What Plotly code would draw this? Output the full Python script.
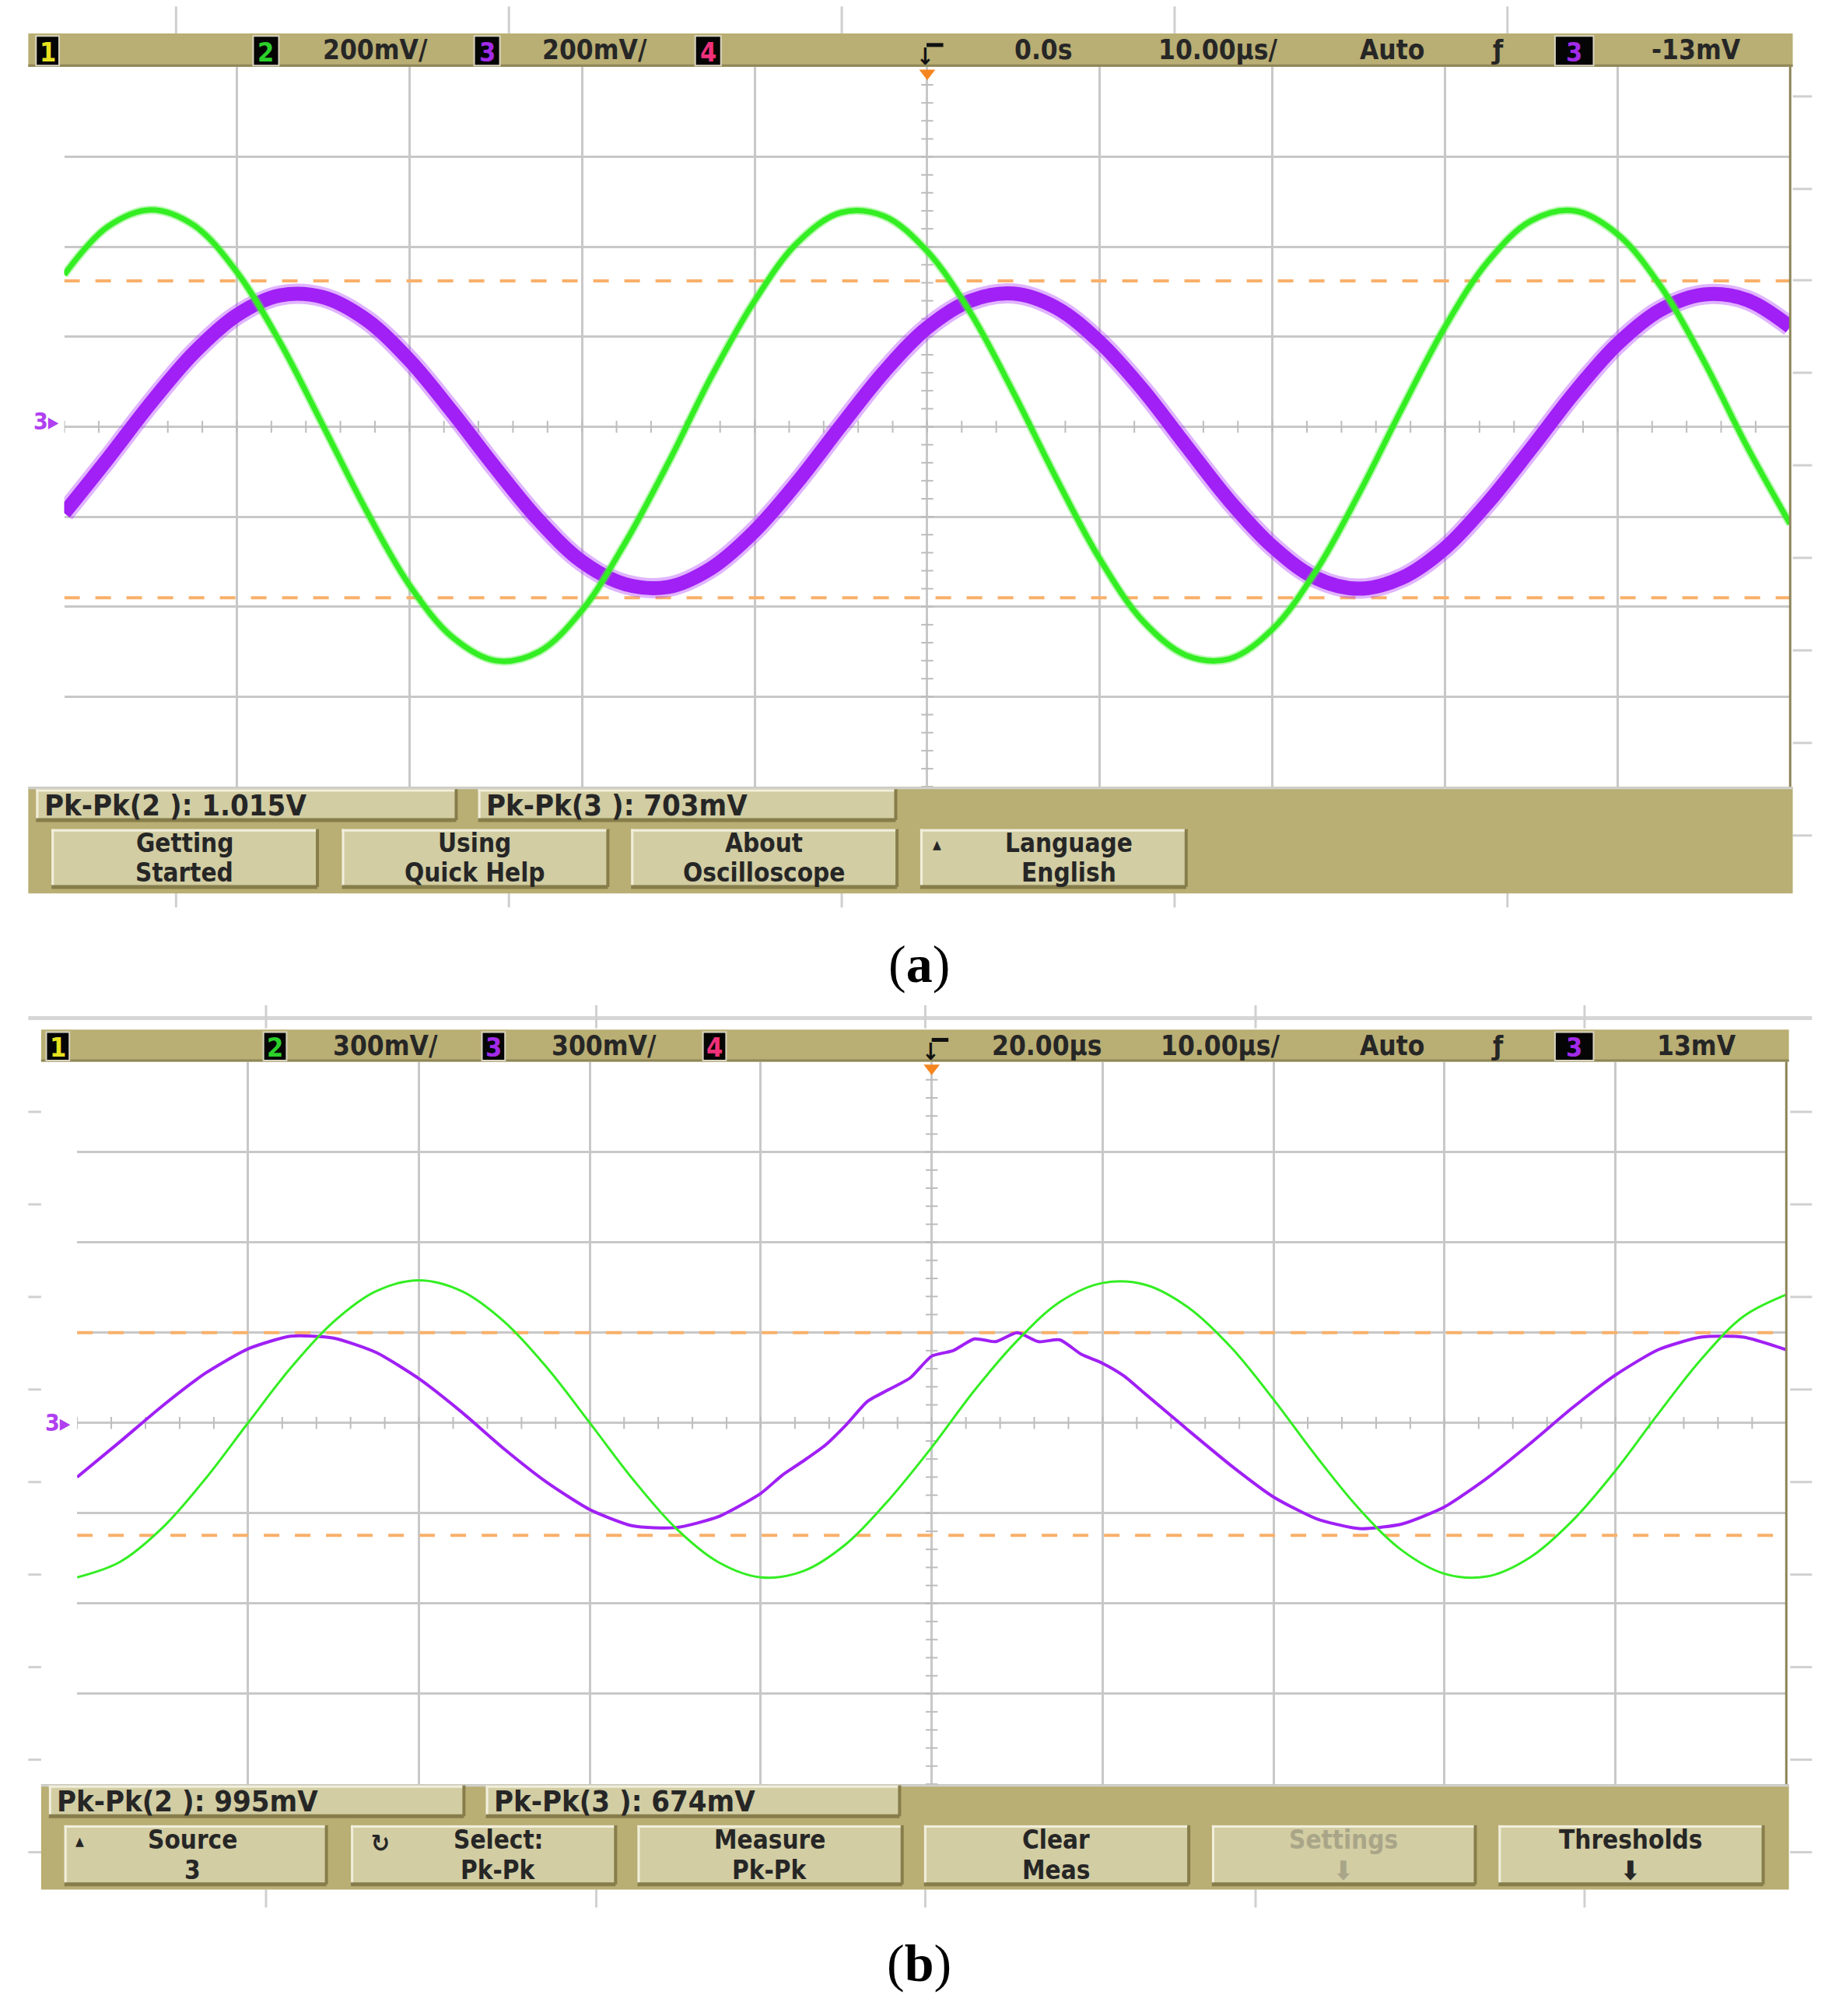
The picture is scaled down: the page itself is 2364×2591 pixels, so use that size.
import plotly.graph_objects as go
import numpy as np

# ---------------- data (values in screen divisions) ----------------
x_div = [i * 0.25 for i in range(41)]

green_a = [1.69, 2.22, 2.41, 2.24, 1.72, 0.94, 0.01, -0.93, -1.76, -2.34, -2.60, -2.50, -2.04, -1.29,
           -0.40, 0.56, 1.40, 2.05, 2.38, 2.34, 1.95, 1.27, 0.38, -0.58, -1.47, -2.16, -2.54, -2.58,
           -2.25, -1.61, -0.75, 0.20, 1.11, 1.84, 2.29, 2.40, 2.14, 1.56, 0.73, -0.22, -1.08]
purple_a = [-0.96, -0.36, 0.26, 0.82, 1.24, 1.46, 1.44, 1.19, 0.74, 0.16, -0.46, -1.04, -1.50, -1.75,
            -1.78, -1.57, -1.16, -0.61, 0.01, 0.61, 1.10, 1.40, 1.48, 1.32, 0.94, 0.41, -0.21, -0.82,
            -1.33, -1.68, -1.80, -1.68, -1.35, -0.84, -0.24, 0.38, 0.92, 1.30, 1.47, 1.41, 1.11]
green_b = [-1.71, -1.54, -1.16, -0.62, 0.00, 0.61, 1.12, 1.46, 1.58, 1.46, 1.12, 0.61, 0.00, -0.62,
           -1.16, -1.54, -1.71, -1.64, -1.34, -0.85, -0.27, 0.36, 0.91, 1.34, 1.55, 1.53, 1.28, 0.84,
           0.26, -0.37, -0.95, -1.41, -1.67, -1.70, -1.49, -1.08, -0.53, 0.10, 0.70, 1.18, 1.42]
x_b3 = [0.0, 0.25, 0.5, 0.75, 1.0, 1.25, 1.5, 1.75, 2.0, 2.25, 2.5, 2.75, 3.0, 3.25, 3.5, 3.75,
        4.0, 4.125, 4.25, 4.375, 4.5, 4.625, 4.75, 4.875, 5.0, 5.125, 5.25, 5.375, 5.5, 5.625,
        5.75, 5.875, 6.0, 6.125, 6.25, 6.5, 6.75, 7.0, 7.25, 7.5, 7.75, 8.0, 8.25, 8.5, 8.75,
        9.0, 9.25, 9.5, 9.75, 10.0]
purple_b = [-0.60, -0.21, 0.19, 0.55, 0.82, 0.96, 0.94, 0.78, 0.49, 0.12, -0.29, -0.66, -0.96, -1.14,
            -1.16, -1.04,
            -0.78, -0.58, -0.42, -0.25, -0.02, 0.24, 0.37, 0.50, 0.74, 0.80, 0.93, 0.90, 1.00, 0.90,
            0.92, 0.76, 0.66, 0.52, 0.32,
            -0.08, -0.47, -0.82, -1.06, -1.17, -1.12, -0.93, -0.61, -0.23, 0.17, 0.53, 0.81, 0.95, 0.95, 0.81]
thr_a = [1.62, -1.90]
thr_b = [1.00, -1.245]

header_a = ["200mV/", "200mV/", "0.0s", "10.00µs/", "Auto", "-13mV"]
header_b = ["300mV/", "300mV/", "20.00µs", "10.00µs/", "Auto", "13mV"]
meas_a = ["Pk-Pk(2 ): 1.015V", "Pk-Pk(3 ): 703mV"]
meas_b = ["Pk-Pk(2 ): 995mV", "Pk-Pk(3 ): 674mV"]
keys_a = [("Getting", "Started"), ("Using", "Quick Help"), ("About", "Oscilloscope"), ("Language", "English")]
keys_b = [("Source", "3"), ("Select:", "Pk-Pk"), ("Measure", "Pk-Pk"), ("Clear", "Meas"),
          ("Settings", "⬇"), ("Thresholds", "⬇")]

# ---------------- geometry helpers ----------------
W, H = 2364, 2591
S = 1.652
def fx(s): return s * S / W
def fy(s): return 1 - s * S / H

SCOPE = "Liberation Sans Narrow, DejaVu Sans Condensed, Roboto, Liberation Sans, sans-serif"
TAN = "#B9AE73"
KEY = "#D2CDA3"
TXT = "#262626"

shapes = []
annos = []

def rect(x0, y0, x1, y1, fill, line=None, lw=0):
    shapes.append(dict(type="rect", xref="paper", yref="paper", x0=fx(x0), x1=fx(x1),
                       y0=fy(y1), y1=fy(y0), fillcolor=fill,
                       line=dict(color=line or fill, width=lw), layer="above"))

def seg(x0, y0, x1, y1, color, w):
    shapes.append(dict(type="line", xref="paper", yref="paper", x0=fx(x0), y0=fy(y0),
                       x1=fx(x1), y1=fy(y1), line=dict(color=color, width=w), layer="above"))

def txt(x, y, text, size, color=TXT, family=SCOPE, xanchor="center", weight="bold"):
    annos.append(dict(x=fx(x), y=fy(y), xref="paper", yref="paper", text=text, showarrow=False,
                      xanchor=xanchor, yanchor="middle",
                      font=dict(size=size, color=color, family=family, weight=weight)))

def key(x0, y0, x1, y1):
    rect(x0, y0, x1, y1, KEY)
    seg(x0, y0 + 1, x1, y0 + 1, "#F1EEDB", 3)
    seg(x0 + 1, y0, x0 + 1, y1, "#F1EEDB", 3)
    seg(x0, y1, x1, y1, "#867D4B", 5)
    seg(x1, y0, x1, y1, "#867D4B", 4)

def chbox(x0, x1, y0, y1, label, color):
    rect(x0, y0, x1, y1, "#050505", "#d8d4c0", 2)
    txt((x0 + x1) / 2, (y0 + y1) / 2 + 1, label, 34, color=color)

def trig_sym(x, yc):
    seg(x - 1, yc - 7, x + 12, yc - 7, "#111", 5)
    txt(x - 2, yc + 2, "↓", 30, color="#111")

# ---------------- background decorations (page behind) ----------------
for xs in [137, 396, 655, 914, 1173]:
    seg(xs, 5, xs, 26, "#cfcfcf", 3)
    seg(xs, 695, xs, 706, "#cfcfcf", 3)
for ys in [75, 147, 218, 290, 362, 434, 506, 578, 650]:
    seg(1395, ys, 1410, ys, "#d0d0d0", 3)
seg(22, 792, 1410, 792, "#d6d6d6", 5)
for xs in [207, 464, 720, 977, 1233]:
    seg(xs, 782, xs, 800, "#d0d0d0", 3)
    seg(xs, 1470, xs, 1484, "#d0d0d0", 3)
for ys in [865, 937, 1009, 1081, 1153, 1225, 1297, 1369, 1441]:
    seg(22, ys, 32, ys, "#d0d0d0", 3)
    seg(1393, ys, 1410, ys, "#d0d0d0", 3)

# ---------------- panel (a) frame ----------------
rect(22, 26, 1395, 52, TAN)
seg(22, 51, 1395, 51, "#8F8758", 3)
chbox(28, 46, 28, 51, "1", "#E6E020")
chbox(197, 217, 28, 51, "2", "#2BD02B")
txt(292, 39, header_a[0], 35)
chbox(369, 389, 28, 51, "3", "#A22BE8")
txt(463, 39, header_a[1], 35)
chbox(541, 561, 28, 51, "4", "#F0307A")
trig_sym(722, 42)
txt(812, 39, header_a[2], 35)
txt(948, 39, header_a[3], 35)
txt(1083, 39, header_a[4], 35)
txt(1165, 39, "ƒ", 34)
chbox(1210, 1240, 28, 51, "3", "#A22BE8")
txt(1320, 39, header_a[5], 35)
seg(1393, 52, 1393, 612, "#8C8458", 3)

rect(22, 612, 1395, 695, TAN)
seg(22, 613, 1395, 613, "#cfcfcf", 3)
for (x0, x1), t in zip([(28, 355), (372, 697)], meas_a):
    key(x0, 614, x1, 638)
    txt(x0 + 5, 626.5, t, 38, xanchor="left")
for (x0, x1), (t1, t2) in zip([(40, 247), (266, 473), (491, 698), (716, 923)], keys_a):
    key(x0, 645, x1, 690)
    cx = (x0 + x1) / 2 + (12 if t1 == "Language" else 0)
    txt(cx, 656, t1, 33)
    txt(cx, 679, t2, 33)
txt(729, 657, "▴", 24)

# ---------------- panel (b) frame ----------------
rect(32, 801, 1392, 826, TAN)
seg(32, 825, 1392, 825, "#8F8758", 3)
chbox(36, 54, 803, 825, "1", "#E6E020")
chbox(205, 223, 803, 825, "2", "#2BD02B")
txt(300, 813.5, header_b[0], 35)
chbox(375, 393, 803, 825, "3", "#A22BE8")
txt(470, 813.5, header_b[1], 35)
chbox(547, 565, 803, 825, "4", "#F0307A")
trig_sym(726, 816)
txt(815, 813.5, header_b[2], 35)
txt(950, 813.5, header_b[3], 35)
txt(1083, 813.5, header_b[4], 35)
txt(1165, 813.5, "ƒ", 34)
chbox(1210, 1240, 803, 825, "3", "#A22BE8")
txt(1320, 813.5, header_b[5], 35)
seg(1390, 826, 1390, 1388, "#8C8458", 3)

rect(32, 1388, 1392, 1470, TAN)
seg(32, 1389, 1392, 1389, "#cfcfcf", 3)
for (x0, x1), t in zip([(38, 361), (378, 700)], meas_b):
    key(x0, 1389, x1, 1413)
    txt(x0 + 5, 1401.5, t, 38, xanchor="left")
key_pos_b = [(50, 254), (273, 479), (496, 702), (719, 925), (943, 1148), (1166, 1372)]
for (x0, x1), (t1, t2) in zip(key_pos_b, keys_b):
    key(x0, 1420, x1, 1466)
    col = "#A9A588" if t1 == "Settings" else TXT
    cx = (x0 + x1) / 2
    if t1 == "Source":
        cx -= 2
    if t1 == "Select:":
        cx += 12
    txt(cx, 1431, t1, 33, color=col)
    txt(cx, 1455, t2, 34 if t2 == "⬇" else 33, color=col)
txt(62, 1432, "▴", 24)
txt(296, 1434, "↻", 32)

# ground markers
txt(36, 328, "3▸", 30, color="#B040F0")
txt(45, 1107, "3▸", 30, color="#B040F0")

# captions
txt(715, 750, "(<b>a</b>)", 68, color="#000", family="Liberation Serif, DejaVu Serif, serif", weight="normal")
txt(715, 1527, "(<b>b</b>)", 68, color="#000", family="Liberation Serif, DejaVu Serif, serif", weight="normal")

# ---------------- traces ----------------
fig = go.Figure()

def add_panel(xa, ya, thr, xg, green, xp, purple, pw, gw, fuzz):
    ticks = np.arange(0, 10.001, 0.2)
    vt = np.arange(-4, 4.001, 0.2)
    fig.add_trace(go.Scatter(x=ticks, y=[0] * len(ticks), mode="markers", xaxis=xa, yaxis=ya,
                             marker=dict(symbol="line-ns", size=11, line=dict(color="#bdbdbd", width=2)),
                             hoverinfo="skip"))
    fig.add_trace(go.Scatter(x=[5] * len(vt), y=vt, mode="markers", xaxis=xa, yaxis=ya,
                             marker=dict(symbol="line-ew", size=11, line=dict(color="#bdbdbd", width=2)),
                             hoverinfo="skip"))
    for t in thr:
        fig.add_trace(go.Scatter(x=[0, 10], y=[t, t], mode="lines", xaxis=xa, yaxis=ya,
                                 line=dict(color="#F9B06A", width=4, dash="20px,20px"), hoverinfo="skip"))
    if fuzz:
        fig.add_trace(go.Scatter(x=xp, y=purple, mode="lines", xaxis=xa, yaxis=ya, opacity=0.4,
                                 line=dict(color="#B445FF", width=pw + 8, shape="spline", smoothing=1.0),
                                 hoverinfo="skip"))
    fig.add_trace(go.Scatter(x=xp, y=purple, mode="lines", xaxis=xa, yaxis=ya,
                             line=dict(color="#A020F5", width=pw, shape="spline", smoothing=1.0 if fuzz else 0.6),
                             name="Ch3"))
    if fuzz:
        fig.add_trace(go.Scatter(x=xg, y=green, mode="lines", xaxis=xa, yaxis=ya, opacity=0.4,
                                 line=dict(color="#55F040", width=gw + 4, shape="spline", smoothing=1.0),
                                 hoverinfo="skip"))
    fig.add_trace(go.Scatter(x=xg, y=green, mode="lines", xaxis=xa, yaxis=ya,
                             line=dict(color="#33EE22", width=gw, shape="spline", smoothing=1.0),
                             name="Ch2"))
    fig.add_trace(go.Scatter(x=[5], y=[3.93], mode="markers", xaxis=xa, yaxis=ya, cliponaxis=False,
                             marker=dict(symbol="triangle-down", size=18, color="#F5861F"),
                             hoverinfo="skip"))

add_panel("x", "y", thr_a, x_div, green_a, x_div, purple_a, 18, 7, True)
add_panel("x2", "y2", thr_b, x_div, green_b, x_b3, purple_b, 4, 3, False)

axis_common = dict(showgrid=True, gridcolor="#c8c8c8", gridwidth=3, zeroline=False,
                   showticklabels=False, ticks="", showline=False, fixedrange=True)

fig.update_layout(
    width=W, height=H, margin=dict(l=0, r=0, t=0, b=0),
    paper_bgcolor="white", plot_bgcolor="white", showlegend=False,
    shapes=shapes, annotations=annos,
    xaxis=dict(domain=[fx(50), fx(1393)], range=[0, 10], dtick=1, tick0=0, anchor="y", **axis_common),
    yaxis=dict(domain=[fy(612), fy(52)], range=[-4, 4], dtick=1, tick0=0, anchor="x", **axis_common),
    xaxis2=dict(domain=[fx(60), fx(1390)], range=[0, 10], dtick=1, tick0=0, anchor="y2", **axis_common),
    yaxis2=dict(domain=[fy(1388), fy(826)], range=[-4, 4], dtick=1, tick0=0, anchor="x2", **axis_common),
)

fig.write_html("out.html", config={"displayModeBar": False},
               post_script="document.body.style.margin='0px';")
